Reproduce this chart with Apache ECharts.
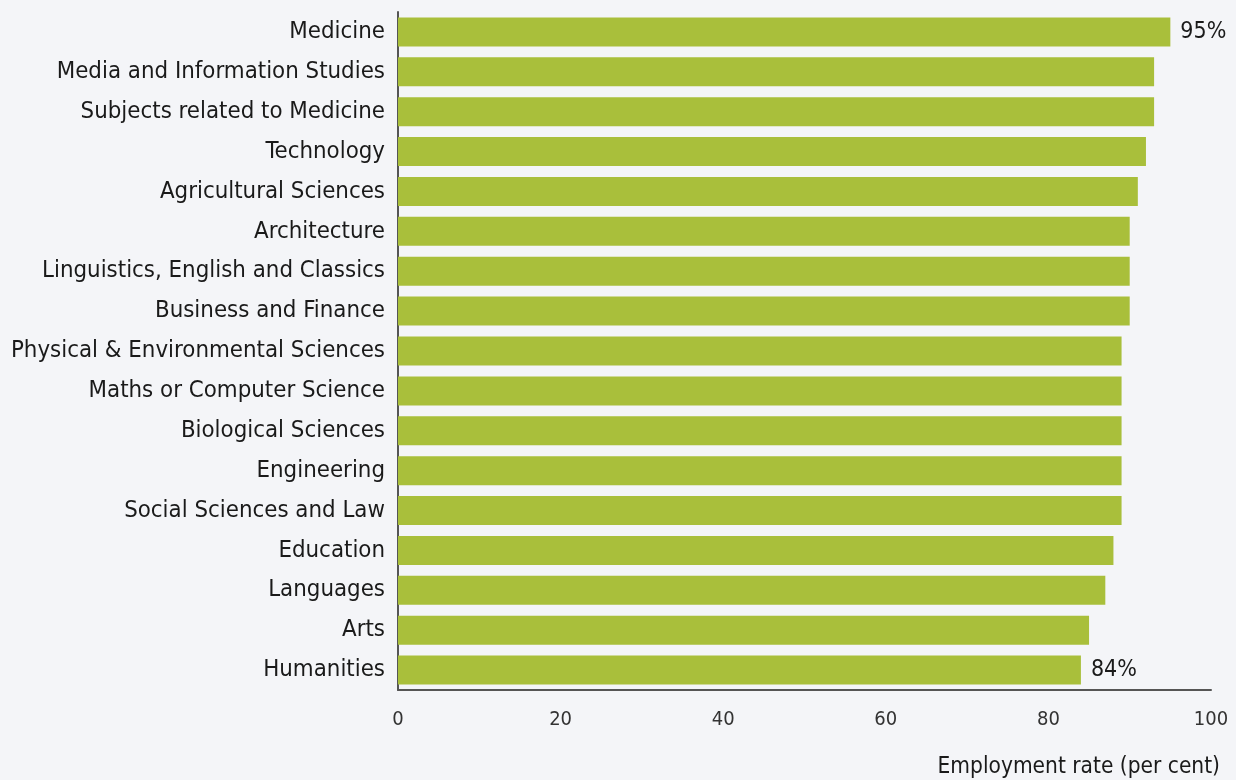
<!DOCTYPE html>
<html><head><meta charset="utf-8">
<script src="https://cdn.jsdelivr.net/npm/echarts@6/dist/echarts.min.js"></script>
<style>html,body{margin:0;padding:0;background:#f4f5f8;}#c{width:1236px;height:780px;}</style>
</head><body><div id="c"></div>
<script>
const categories = ["Medicine","Media and Information Studies","Subjects related to Medicine","Technology","Agricultural Sciences","Architecture","Linguistics, English and Classics","Business and Finance","Physical & Environmental Sciences","Maths or Computer Science","Biological Sciences","Engineering","Social Sciences and Law","Education","Languages","Arts","Humanities"];
const values = [95,93,93,92,91,90,90,90,89,89,89,89,89,88,87,85,84];
const labelledIdx = [0,16];
const FONT = "DejaVu Sans Condensed";
const chart = echarts.init(document.getElementById('c'));
chart.setOption({
  backgroundColor:'#f4f5f8',
  animation:false,
  grid:{left:398,right:25,top:12,bottom:90,containLabel:false},
  xAxis:{type:'value',min:0,max:100,interval:20,
    name:'Employment rate (per cent)',nameLocation:'end',nameGap:0,
    nameTextStyle:{fontFamily:FONT,fontSize:22.5,color:'#1a1a1a',align:'right',verticalAlign:'top',padding:[66,-9,0,0]},
    axisLine:{show:true,lineStyle:{color:'#555',width:2}},axisTick:{show:false},splitLine:{show:false},
    axisLabel:{fontFamily:FONT,fontSize:20,color:'#333',margin:20}},
  yAxis:{type:'category',data:categories,inverse:true,
    axisLine:{show:true,lineStyle:{color:'#555',width:2}},axisTick:{show:false},
    axisLabel:{fontFamily:FONT,fontSize:23.8,color:'#1a1a1a',margin:13,padding:[5,0,0,0]}},
  series:[{type:'bar',barWidth:29,itemStyle:{color:'#a9bf3b'},
    data:values.map((v,i)=>({value:v,label:{show:labelledIdx.includes(i)}})),
    label:{position:'right',distance:10,formatter:'{c}%',fontFamily:FONT,fontSize:23,color:'#1a1a1a',padding:[5,0,0,0]}}]
});
</script></body></html>
